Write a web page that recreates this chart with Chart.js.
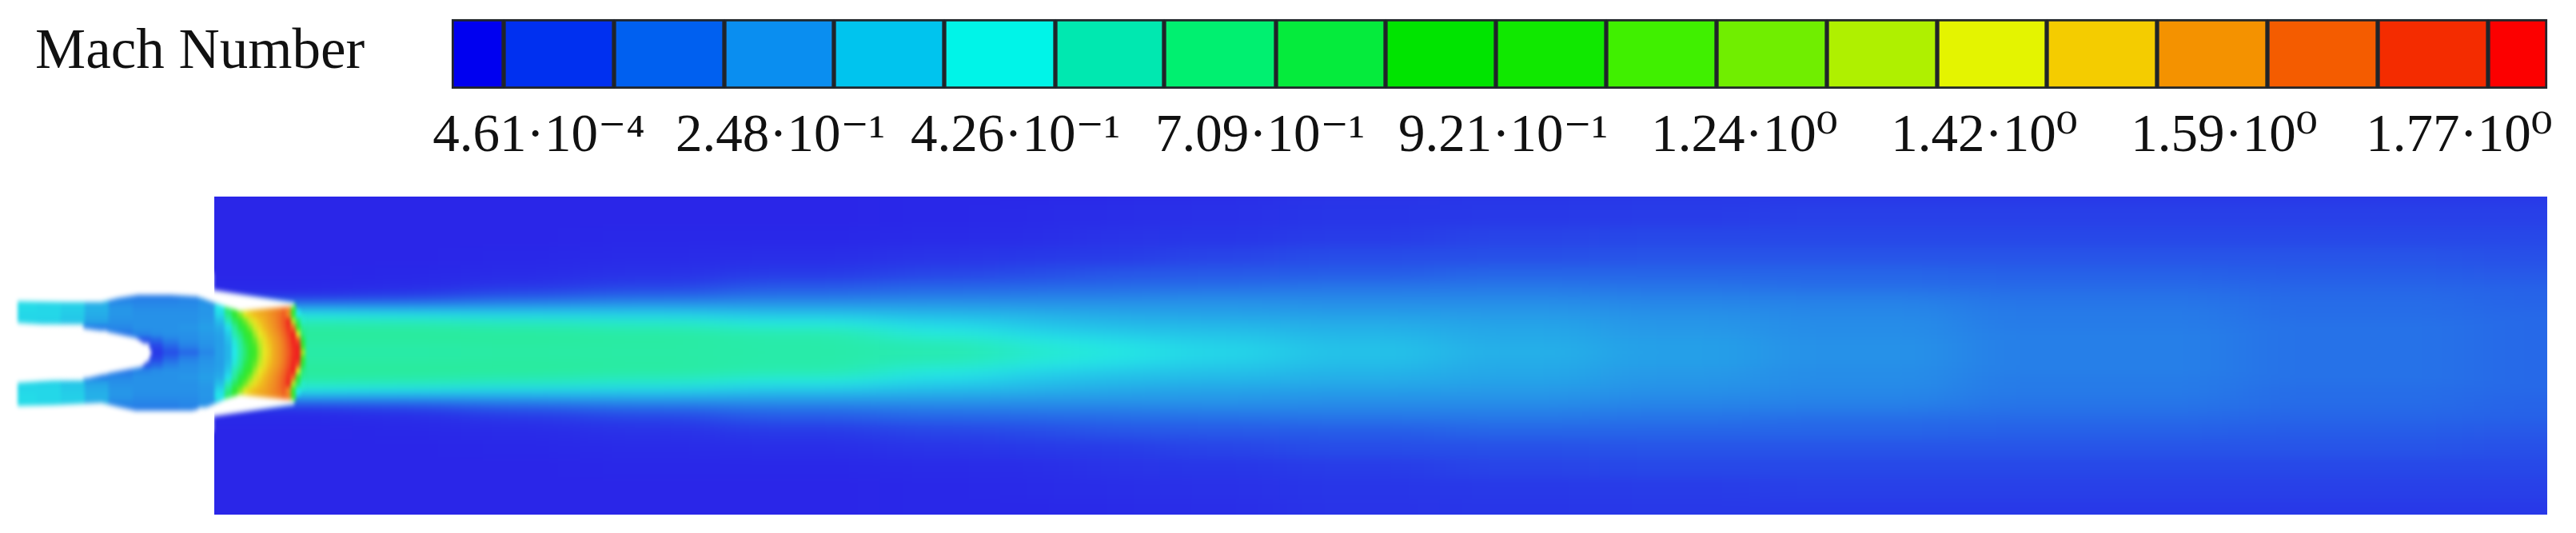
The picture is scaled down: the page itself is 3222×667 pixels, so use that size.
<!DOCTYPE html>
<html>
<head>
<meta charset="utf-8">
<title>Mach Number</title>
<script src="https://cdn.jsdelivr.net/npm/chart.js@4"></script>
<svg width="0" height="0" style="position:absolute">
  <filter id="fieldBlur" x="0" y="0" width="100%" height="100%" color-interpolation-filters="sRGB"><feGaussianBlur stdDeviation="42 7"/></filter>
  <filter id="nozzleBlur" x="0" y="0" width="100%" height="100%" color-interpolation-filters="sRGB"><feGaussianBlur stdDeviation="2 3"/></filter>
</svg>
<style>
  html, body { margin: 0; background: #fff; overflow: hidden; }
  body { width: 3222px; height: 667px; position: relative; }
  #title { position: absolute; left: 44px; top: 21px; font: 71px "Liberation Serif", serif; color: #111; white-space: nowrap; }
  #barBox { position: absolute; left: 0; top: 0; width: 3222px; height: 210px; }
  #fieldBox { position: absolute; left: 268px; top: 246px; width: 2918px; height: 398px; overflow: hidden; }
  #fieldBox canvas { position: absolute; left: -268px; top: -60px; filter: url(#fieldBlur); }
  #nozzleBox { position: absolute; left: 0; top: 331px; width: 420px; height: 220px; }
  #nozzleBox canvas { filter: url(#nozzleBlur); }
</style>
</head>
<body>
<div id="title">Mach Number</div>
<div id="barBox"><canvas id="colorBar" width="3222" height="210"></canvas></div>
<div id="fieldBox"><canvas id="field" width="3500" height="518"></canvas></div>
<div id="nozzleBox"><canvas id="nozzle" width="420" height="220"></canvas></div>
<script>
// colour bar
const bandEdges = [565, 630, 768, 906, 1043, 1181, 1320, 1456, 1596, 1733, 1871, 2009, 2147, 2285, 2423, 2560, 2698, 2836, 2974, 3112, 3186];
const bandColors = ["#0000f0", "#0030f0", "#0060f0", "#0a8ef0", "#00c4ee", "#00f4e8", "#00e8b0", "#00f070", "#05eb3c", "#00e400",
  "#10e800", "#40f000", "#70ee00", "#aff000", "#e4f400", "#f4cc00", "#f49200", "#f45c00", "#f42c00", "#fc0000"];
const tickPositions = [674, 976, 1270, 1576, 1880, 2182, 2482, 2782, 3076];
const tickLabels = ["4.61·10⁻⁴", "2.48·10⁻¹", "4.26·10⁻¹", "7.09·10⁻¹", "9.21·10⁻¹", "1.24·10⁰", "1.42·10⁰", "1.59·10⁰", "1.77·10⁰"];

// flow field downstream of the nozzle: distance from the jet axis, streamwise stations
const fieldOffsets = [0, 12, 24, 36, 48, 60, 72, 84, 100, 120, 145, 170, 200, 240];
const fieldStations = [100, 380, 500, 650, 800, 1000, 1200, 1300, 1400, 1500, 1700, 1900, 2100, 2300, 2600, 3000, 3186, 3400];
const fieldMach = [
  [.62, .64, .67, .62, .50, .28, .05, .03, .02, .02, .02, .02, .02, .02],
  [.62, .64, .67, .62, .50, .28, .05, .03, .02, .02, .02, .02, .02, .02],
  [.62, .64, .67, .60, .48, .28, .10, .04, .03, .02, .02, .02, .02, .02],
  [.63, .65, .66, .58, .46, .30, .16, .07, .04, .03, .02, .02, .02, .02],
  [.63, .64, .64, .56, .45, .32, .20, .11, .06, .04, .03, .02, .02, .02],
  [.62, .62, .60, .52, .42, .32, .23, .16, .09, .05, .03, .02, .02, .02],
  [.60, .58, .52, .46, .39, .32, .25, .19, .12, .07, .04, .03, .03, .03],
  [.55, .52, .46, .41, .37, .31, .26, .20, .14, .09, .05, .04, .03, .03],
  [.51, .48, .43, .39, .35, .31, .26, .21, .16, .10, .07, .05, .04, .04],
  [.46, .44, .41, .38, .34, .31, .27, .22, .17, .12, .08, .06, .05, .05],
  [.41, .40, .38, .36, .33, .30, .27, .23, .18, .14, .10, .08, .07, .07],
  [.37, .36, .35, .34, .32, .30, .27, .24, .20, .15, .12, .09, .08, .08],
  [.33, .33, .32, .31, .30, .28, .26, .23, .20, .16, .13, .10, .09, .09],
  [.30, .30, .29, .29, .28, .27, .25, .22, .20, .16, .13, .11, .09, .09],
  [.26, .26, .26, .25, .25, .24, .23, .21, .19, .16, .13, .11, .09, .09],
  [.23, .23, .23, .23, .22, .22, .21, .20, .18, .16, .13, .11, .09, .09],
  [.21, .21, .21, .21, .21, .20, .20, .19, .17, .15, .13, .11, .09, .09],
  [.21, .21, .21, .21, .21, .20, .20, .19, .17, .15, .13, .11, .09, .09]
];

// nozzle interior, one row per distance from the axis
const n = null;
const nozzleOffsets = [0, 8, 16, 24, 32, 40, 48, 56, 64, 72];
const nozzleStations = [30, 60, 90, 120, 150, 180, 195, 210, 235, 260, 275, 285, 293, 300, 306, 312, 318, 324, 330, 336, 342, 348, 354, 360, 366, 372, 378];
const nozzleMach = [
  [n, n, n, n, n, n, .08, .14, .20, .27, .33, .38, .50, .62, .78, .95, 1.10, 1.28, 1.42, 1.47, 1.54, 1.58, 1.63, 1.68, 1.76, 1.82, 1.30],
  [n, n, n, n, n, n, .12, .20, .26, .30, .33, .38, .51, .64, .80, .97, 1.12, 1.30, 1.43, 1.48, 1.54, 1.58, 1.63, 1.69, 1.77, 1.80, 1.10],
  [n, n, n, n, n, .15, .20, .26, .29, .31, .33, .40, .54, .68, .86, 1.02, 1.18, 1.35, 1.44, 1.50, 1.55, 1.59, 1.64, 1.70, 1.79, 1.70, .90],
  [n, n, n, n, .24, .27, .29, .30, .30, .32, .34, .43, .60, .76, .95, 1.10, 1.28, 1.42, 1.47, 1.53, 1.57, 1.61, 1.66, 1.73, 1.80, 1.40, .75],
  [n, n, n, .26, .28, .30, .30, .30, .31, .33, .36, .48, .68, .88, 1.05, 1.22, 1.38, 1.45, 1.51, 1.55, 1.59, 1.63, 1.68, 1.76, 1.65, 1.00, .68],
  [.46, .45, .42, .34, .30, .30, .30, .30, .30, .32, .40, .58, .82, 1.00, 1.20, 1.36, 1.44, 1.49, 1.53, 1.57, 1.60, 1.64, 1.69, 1.78, 1.30, .80, .55],
  [.46, .46, .43, .36, .31, .30, .30, .30, .30, .31, .46, .72, .98, 1.22, 1.40, 1.46, 1.50, 1.53, 1.55, 1.58, 1.61, 1.64, 1.68, 1.60, 1.00, .50, n],
  [.47, .46, .44, .37, .31, .29, .29, .29, .29, .31, .50, .80, 1.10, 1.35, 1.45, 1.50, 1.52, 1.54, 1.56, 1.58, 1.60, 1.62, 1.65, 1.62, 1.10, n, n],
  [.47, .46, .44, .36, .28, .27, .27, .27, .28, .30, .40, .40, n, n, n, n, n, n, n, n, n, n, n, n, n, n, n],
  [n, n, n, n, .25, .25, .25, .25, .26, n, n, n, n, n, n, n, n, n, n, n, n, n, n, n, n, n, n]
];

// white solid parts, as [station, distance from axis]
const upperWall = [[0, 100], [267, 100], [267, 78], [368, 62], [368, 58], [300, 52], [283, 57], [263, 64], [247, 70], [213, 72], [173, 72], [147, 68], [127, 63], [83, 63], [22, 64], [22, 37], [0, 37]];
const lowerWall = [[0, -100], [267, -100], [267, -80], [368, -65], [368, -60], [300, -53], [283, -58], [260, -68], [240, -73], [170, -73], [147, -68], [127, -63], [67, -66], [22, -67], [22, -38], [0, -38]];
const centerBody = [[0, 37], [22, 37], [83, 33], [133, 26], [170, 18], [185, 8], [190, 0], [185, -10], [177, -18], [140, -25], [110, -32], [67, -35], [22, -38], [0, -38]];

// colour ramp of the contour plot, washed compared to the bar
const rampMach = [0, .1, .2, .3, .4, .5, .6, .7, .9, 1.1, 1.3, 1.42, 1.5, 1.6, 1.7, 1.8];
const rampRgb = [[42, 32, 232], [40, 60, 232], [38, 100, 232], [38, 145, 232], [36, 190, 232], [36, 232, 232], [40, 235, 175], [42, 235, 145],
  [40, 232, 60], [60, 232, 40], [170, 235, 40], [232, 232, 36], [240, 190, 30], [240, 140, 35], [240, 80, 35], [240, 30, 30]];

function colorFor(m) {
  let i = 0;
  while (i < rampMach.length - 2 && m > rampMach[i + 1]) i++;
  const t = Math.min(1, Math.max(0, (m - rampMach[i]) / (rampMach[i + 1] - rampMach[i])));
  const c = rampRgb[i].map((v, k) => Math.round(v + (rampRgb[i + 1][k] - v) * t));
  return `rgb(${c[0]},${c[1]},${c[2]})`;
}

// [lo, hi] edges of the cell around each station
function cellEdges(stops) {
  return stops.map((s, i) => {
    const before = i > 0 ? (s - stops[i - 1]) / 2 : (stops[1] - s) / 2;
    const after = i < stops.length - 1 ? (stops[i + 1] - s) / 2 : (s - stops[i - 1]) / 2;
    return [s - before, s + after];
  });
}

// one bar dataset per station, rows mirrored about the axis
function columnDatasets(stations, offsets, machAt) {
  const xEdges = cellEdges(stations);
  const yEdges = cellEdges(offsets);
  yEdges[0] = [0, yEdges[0][1]];
  return stations.map((x, c) => {
    const data = [], colors = [];
    offsets.forEach((o, r) => {
      const m = machAt(c, r);
      if (m === null) return;
      const [lo, hi] = yEdges[r];
      data.push({ x: (xEdges[c][0] + xEdges[c][1]) / 2, y: [lo - .5, hi + .5] });
      colors.push(colorFor(m));
      data.push({ x: (xEdges[c][0] + xEdges[c][1]) / 2, y: [-hi - .5, -lo + .5] });
      colors.push(colorFor(m));
    });
    return {
      type: "bar",
      data,
      backgroundColor: colors,
      borderWidth: 0,
      grouped: false,
      barThickness: xEdges[c][1] - xEdges[c][0] + 1,
      order: 2
    };
  });
}

function maskDataset(points) {
  return {
    type: "line",
    data: points.map(p => ({ x: p[0], y: p[1] })),
    fill: "shape",
    backgroundColor: "#fff",
    borderWidth: 0,
    pointRadius: 0,
    tension: 0,
    order: 1
  };
}

const flatScales = (xMin, xMax, yMin, yMax) => ({
  x: { type: "linear", display: false, offset: false, min: xMin, max: xMax },
  y: { type: "linear", display: false, min: yMin, max: yMax }
});
const flatOptions = {
  responsive: false,
  animation: false,
  layout: { padding: 0 },
  plugins: { legend: { display: false }, tooltip: { enabled: false } }
};

new Chart(document.getElementById("colorBar"), {
  type: "bar",
  data: {
    labels: ["Mach Number"],
    datasets: bandColors.map((color, i) => ({
      data: [[bandEdges[i], bandEdges[i + 1]]],
      backgroundColor: color,
      borderColor: "rgba(15,20,25,0.92)",
      borderWidth: 3,
      borderSkipped: false,
      grouped: false,
      barThickness: 87
    }))
  },
  options: {
    ...flatOptions,
    indexAxis: "y",
    layout: { padding: { top: 20, bottom: 0 } },
    scales: {
      x: {
        type: "linear",
        min: 0,
        max: 3222,
        grid: { display: false },
        border: { display: false },
        afterBuildTicks: axis => { axis.ticks = tickPositions.map(v => ({ value: v })); },
        ticks: {
          autoSkip: false,
          maxRotation: 0,
          padding: 8,
          color: "#111",
          font: { family: "'Liberation Serif', 'DejaVu Serif'", size: 67 },
          callback: (v, i) => tickLabels[i]
        }
      },
      y: { display: false }
    }
  }
});

new Chart(document.getElementById("field"), {
  type: "bar",
  data: { datasets: columnDatasets(fieldStations, fieldOffsets, (c, r) => fieldMach[c][r]) },
  options: { ...flatOptions, scales: flatScales(0, 3500, -263, 255) }
});

new Chart(document.getElementById("nozzle"), {
  type: "bar",
  data: {
    datasets: [
      ...columnDatasets(nozzleStations, nozzleOffsets, (c, r) => nozzleMach[r][c]),
      maskDataset(upperWall),
      maskDataset(lowerWall),
      maskDataset(centerBody)
    ]
  },
  options: { ...flatOptions, scales: flatScales(0, 420, -110, 110) }
});
</script>
</body>
</html>
